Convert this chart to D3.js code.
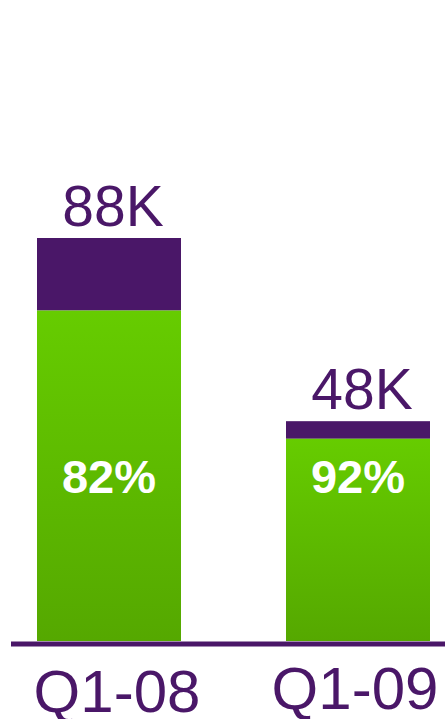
<!DOCTYPE html>
<html>
<head>
<meta charset="utf-8">
<script src="https://cdn.jsdelivr.net/npm/d3@7"></script>
<style>
  body { margin: 0; background: #fff; }
  svg { display: block; }
</style>
</head>
<body>
<script>
// data
var quarters = ["Q1-08", "Q1-09"];
var totals = [88, 48];          // thousands
var greenShare = [82, 92];      // percent of total
var totalLabels = ["88K", "48K"];

var W = 445, H = 719;
var purple = "#4a1768";

var svg = d3.select("body").append("svg")
  .attr("xmlns", "http://www.w3.org/2000/svg")
  .attr("width", W)
  .attr("height", H);

var defs = svg.append("defs");
var grad = defs.append("linearGradient")
  .attr("id", "greenGrad")
  .attr("x1", 0).attr("y1", 0).attr("x2", 0).attr("y2", 1);
grad.append("stop").attr("offset", "0%").attr("stop-color", "#66cc00");
grad.append("stop").attr("offset", "100%").attr("stop-color", "#55a800");

var x = d3.scaleBand()
  .domain(quarters)
  .range([37, 430])
  .paddingInner(0.4217)
  .paddingOuter(0);

var y = d3.scaleLinear()
  .domain([0, 88])
  .range([641, 238]);

var rows = quarters.map(function(q, i) {
  return { q: q, total: totals[i], green: totals[i] * greenShare[i] / 100,
           share: greenShare[i], label: totalLabels[i] };
});

// purple (remainder) part
svg.selectAll("rect.top").data(rows).enter()
  .append("rect").attr("class", "top")
  .attr("x", function(d) { return x(d.q); })
  .attr("width", x.bandwidth())
  .attr("y", function(d) { return y(d.total); })
  .attr("height", function(d) { return y(d.green) - y(d.total); })
  .attr("fill", purple);

// green part
svg.selectAll("rect.green").data(rows).enter()
  .append("rect").attr("class", "green")
  .attr("x", function(d) { return x(d.q); })
  .attr("width", x.bandwidth())
  .attr("y", function(d) { return y(d.green); })
  .attr("height", function(d) { return y(0) - y(d.green); })
  .attr("fill", "url(#greenGrad)");

// baseline
svg.append("line")
  .attr("x1", 11).attr("x2", W)
  .attr("y1", y(0) + 3).attr("y2", y(0) + 3)
  .attr("stroke", purple)
  .attr("stroke-width", 5);

// total labels
svg.selectAll("text.total").data(rows).enter()
  .append("text").attr("class", "total")
  .attr("x", function(d) { return x(d.q) + x.bandwidth() / 2 + 4; })
  .attr("y", function(d) { return y(d.total) - 12; })
  .attr("text-anchor", "middle")
  .attr("font-family", "Liberation Sans, Arial, sans-serif")
  .attr("font-size", "57px")
  .attr("fill", purple)
  .text(function(d) { return d.label; });

// percent labels
svg.selectAll("text.pct").data(rows).enter()
  .append("text").attr("class", "pct")
  .attr("x", function(d) { return x(d.q) + x.bandwidth() / 2; })
  .attr("y", 493)
  .attr("text-anchor", "middle")
  .attr("font-family", "Liberation Sans, Arial, sans-serif")
  .attr("font-weight", "bold")
  .attr("font-size", "47px")
  .attr("fill", "#fff")
  .text(function(d) { return d.share + "%"; });

// category labels
svg.selectAll("text.cat").data(rows).enter()
  .append("text").attr("class", "cat")
  .attr("x", function(d, i) { return x(d.q) + x.bandwidth() / 2 + (i === 0 ? 8 : -3); })
  .attr("y", function(d, i) { return i === 0 ? 712 : 709; })
  .attr("text-anchor", "middle")
  .attr("font-family", "Liberation Sans, Arial, sans-serif")
  .attr("font-size", "60px")
  .attr("fill", purple)
  .text(function(d) { return d.q; });
</script>
</body>
</html>
